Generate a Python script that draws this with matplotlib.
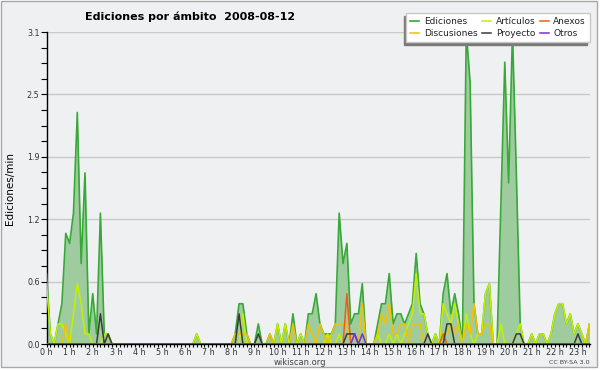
import numpy as np
import matplotlib
matplotlib.use('Agg')
import matplotlib.pyplot as plt
from matplotlib.ticker import FixedLocator, MultipleLocator, FormatStrFormatter
from matplotlib.patches import Rectangle

# edits per minute, one value per 10-minute slot, 0h00 .. 23h30
ediciones = [
    0.7, 0.1, 0.0, 0.2, 0.4, 1.1, 1.0, 1.3, 2.3, 0.8, 1.7, 0.1,
    0.5, 0.1, 1.3, 0.1, 0.1, 0.0, 0.0, 0.0, 0.0, 0.0, 0.0, 0.0,
    0.0, 0.0, 0.0, 0.0, 0.0, 0.0, 0.0, 0.0, 0.0, 0.0, 0.0, 0.0,
    0.0, 0.0, 0.0, 0.1, 0.0, 0.0, 0.0, 0.0, 0.0, 0.0, 0.0, 0.0,
    0.0, 0.1, 0.4, 0.4, 0.1, 0.0, 0.0, 0.2, 0.0, 0.0, 0.1, 0.0,
    0.2, 0.0, 0.2, 0.0, 0.3, 0.0, 0.1, 0.0, 0.3, 0.3, 0.5, 0.2,
    0.1, 0.1, 0.1, 0.2, 1.3, 0.8, 1.0, 0.2, 0.3, 0.3, 0.6, 0.0,
    0.0, 0.0, 0.2, 0.4, 0.4, 0.7, 0.2, 0.3, 0.3, 0.2, 0.3, 0.4,
    0.9, 0.4, 0.3, 0.1, 0.0, 0.1, 0.0, 0.5, 0.7, 0.3, 0.5, 0.3,
    0.0, 3.1, 2.6, 0.4, 0.1, 0.1, 0.5, 0.6, 0.0, 0.0, 1.4, 2.8,
    1.6, 3.1, 1.7, 0.2, 0.0, 0.0, 0.1, 0.0, 0.1, 0.1, 0.0, 0.1,
    0.3, 0.4, 0.4, 0.2, 0.3, 0.1, 0.2, 0.1, 0.0, 0.2,
]
articulos = [
    0.6, 0.1, 0.0, 0.2, 0.2, 0.1, 0.0, 0.3, 0.6, 0.4, 0.1, 0.1,
    0.0, 0.0, 0.0, 0.1, 0.1, 0.0, 0.0, 0.0, 0.0, 0.0, 0.0, 0.0,
    0.0, 0.0, 0.0, 0.0, 0.0, 0.0, 0.0, 0.0, 0.0, 0.0, 0.0, 0.0,
    0.0, 0.0, 0.0, 0.1, 0.0, 0.0, 0.0, 0.0, 0.0, 0.0, 0.0, 0.0,
    0.0, 0.0, 0.0, 0.3, 0.0, 0.0, 0.0, 0.0, 0.0, 0.0, 0.0, 0.0,
    0.2, 0.0, 0.2, 0.0, 0.0, 0.0, 0.1, 0.0, 0.0, 0.0, 0.0, 0.0,
    0.0, 0.1, 0.0, 0.0, 0.1, 0.0, 0.0, 0.0, 0.0, 0.0, 0.0, 0.0,
    0.0, 0.0, 0.1, 0.0, 0.0, 0.1, 0.0, 0.1, 0.0, 0.1, 0.2, 0.3,
    0.7, 0.3, 0.3, 0.1, 0.0, 0.1, 0.0, 0.4, 0.3, 0.2, 0.4, 0.2,
    0.0, 0.3, 0.1, 0.0, 0.1, 0.1, 0.5, 0.6, 0.0, 0.0, 0.2, 0.0,
    0.0, 0.0, 0.1, 0.2, 0.0, 0.0, 0.1, 0.0, 0.1, 0.1, 0.0, 0.1,
    0.3, 0.4, 0.4, 0.2, 0.3, 0.1, 0.2, 0.1, 0.0, 0.2,
]
discusiones = [
    0.0, 0.0, 0.0, 0.0, 0.0, 0.2, 0.0, 0.0, 0.0, 0.0, 0.0, 0.0,
    0.0, 0.0, 0.0, 0.0, 0.0, 0.0, 0.0, 0.0, 0.0, 0.0, 0.0, 0.0,
    0.0, 0.0, 0.0, 0.0, 0.0, 0.0, 0.0, 0.0, 0.0, 0.0, 0.0, 0.0,
    0.0, 0.0, 0.0, 0.0, 0.0, 0.0, 0.0, 0.0, 0.0, 0.0, 0.0, 0.0,
    0.0, 0.1, 0.1, 0.1, 0.1, 0.0, 0.0, 0.0, 0.0, 0.0, 0.1, 0.0,
    0.0, 0.0, 0.0, 0.0, 0.2, 0.0, 0.0, 0.0, 0.2, 0.1, 0.0, 0.2,
    0.1, 0.0, 0.1, 0.2, 0.2, 0.2, 0.2, 0.0, 0.0, 0.0, 0.4, 0.0,
    0.0, 0.0, 0.1, 0.3, 0.2, 0.4, 0.1, 0.1, 0.2, 0.2, 0.0, 0.2,
    0.2, 0.2, 0.0, 0.0, 0.0, 0.0, 0.0, 0.1, 0.1, 0.2, 0.1, 0.2,
    0.0, 0.2, 0.1, 0.4, 0.1, 0.1, 0.2, 0.2, 0.0, 0.0, 0.0, 0.0,
    0.0, 0.0, 0.0, 0.0, 0.0, 0.0, 0.0, 0.0, 0.0, 0.0, 0.0, 0.0,
    0.0, 0.0, 0.0, 0.0, 0.0, 0.0, 0.0, 0.0, 0.0, 0.2,
]
anexos = [
    0.0, 0.0, 0.0, 0.0, 0.0, 0.0, 0.0, 0.0, 0.0, 0.0, 0.0, 0.0,
    0.0, 0.0, 0.0, 0.0, 0.0, 0.0, 0.0, 0.0, 0.0, 0.0, 0.0, 0.0,
    0.0, 0.0, 0.0, 0.0, 0.0, 0.0, 0.0, 0.0, 0.0, 0.0, 0.0, 0.0,
    0.0, 0.0, 0.0, 0.0, 0.0, 0.0, 0.0, 0.0, 0.0, 0.0, 0.0, 0.0,
    0.0, 0.0, 0.0, 0.0, 0.0, 0.0, 0.0, 0.0, 0.0, 0.0, 0.0, 0.0,
    0.0, 0.0, 0.0, 0.0, 0.0, 0.0, 0.0, 0.0, 0.0, 0.0, 0.0, 0.0,
    0.0, 0.0, 0.0, 0.0, 0.0, 0.0, 0.5, 0.0, 0.0, 0.0, 0.0, 0.0,
    0.0, 0.0, 0.0, 0.0, 0.0, 0.0, 0.0, 0.0, 0.0, 0.0, 0.0, 0.0,
    0.0, 0.0, 0.0, 0.0, 0.0, 0.0, 0.0, 0.1, 0.0, 0.0, 0.0, 0.0,
    0.0, 0.0, 0.0, 0.0, 0.0, 0.0, 0.0, 0.0, 0.0, 0.0, 0.0, 0.0,
    0.0, 0.0, 0.0, 0.0, 0.0, 0.0, 0.0, 0.0, 0.0, 0.0, 0.0, 0.0,
    0.0, 0.0, 0.0, 0.0, 0.0, 0.0, 0.0, 0.0, 0.0, 0.0,
]
proyecto = [
    0.0, 0.0, 0.0, 0.0, 0.0, 0.0, 0.0, 0.0, 0.0, 0.0, 0.0, 0.0,
    0.0, 0.0, 0.3, 0.0, 0.1, 0.0, 0.0, 0.0, 0.0, 0.0, 0.0, 0.0,
    0.0, 0.0, 0.0, 0.0, 0.0, 0.0, 0.0, 0.0, 0.0, 0.0, 0.0, 0.0,
    0.0, 0.0, 0.0, 0.0, 0.0, 0.0, 0.0, 0.0, 0.0, 0.0, 0.0, 0.0,
    0.0, 0.0, 0.3, 0.0, 0.0, 0.0, 0.0, 0.1, 0.0, 0.0, 0.0, 0.0,
    0.0, 0.0, 0.0, 0.0, 0.0, 0.0, 0.0, 0.0, 0.0, 0.0, 0.0, 0.0,
    0.0, 0.0, 0.0, 0.0, 0.0, 0.0, 0.1, 0.1, 0.1, 0.0, 0.0, 0.0,
    0.0, 0.0, 0.0, 0.0, 0.0, 0.0, 0.0, 0.0, 0.0, 0.0, 0.0, 0.0,
    0.0, 0.0, 0.0, 0.1, 0.0, 0.0, 0.0, 0.0, 0.2, 0.2, 0.0, 0.0,
    0.0, 0.0, 0.0, 0.0, 0.0, 0.0, 0.0, 0.0, 0.0, 0.0, 0.0, 0.0,
    0.0, 0.0, 0.1, 0.1, 0.0, 0.0, 0.0, 0.0, 0.0, 0.0, 0.0, 0.0,
    0.0, 0.0, 0.0, 0.0, 0.0, 0.0, 0.1, 0.0, 0.0, 0.0,
]
otros = [
    0.0, 0.0, 0.0, 0.0, 0.0, 0.0, 0.0, 0.0, 0.0, 0.0, 0.0, 0.0,
    0.0, 0.0, 0.0, 0.0, 0.0, 0.0, 0.0, 0.0, 0.0, 0.0, 0.0, 0.0,
    0.0, 0.0, 0.0, 0.0, 0.0, 0.0, 0.0, 0.0, 0.0, 0.0, 0.0, 0.0,
    0.0, 0.0, 0.0, 0.0, 0.0, 0.0, 0.0, 0.0, 0.0, 0.0, 0.0, 0.0,
    0.0, 0.0, 0.0, 0.0, 0.0, 0.0, 0.0, 0.0, 0.0, 0.0, 0.0, 0.0,
    0.0, 0.0, 0.0, 0.0, 0.0, 0.0, 0.0, 0.0, 0.0, 0.0, 0.0, 0.0,
    0.0, 0.0, 0.0, 0.0, 0.0, 0.0, 0.0, 0.0, 0.1, 0.0, 0.1, 0.0,
    0.0, 0.0, 0.0, 0.0, 0.0, 0.0, 0.0, 0.0, 0.0, 0.0, 0.0, 0.0,
    0.0, 0.0, 0.0, 0.0, 0.0, 0.0, 0.0, 0.0, 0.0, 0.0, 0.0, 0.0,
    0.0, 0.0, 0.0, 0.0, 0.0, 0.0, 0.0, 0.0, 0.0, 0.0, 0.0, 0.0,
    0.0, 0.0, 0.0, 0.0, 0.0, 0.0, 0.0, 0.0, 0.0, 0.0, 0.0, 0.0,
    0.0, 0.0, 0.0, 0.0, 0.0, 0.0, 0.0, 0.0, 0.0, 0.0,
]

hour_labels = ['%d h' % h for h in range(24)]
y_ticks = [0.0, 0.62, 1.24, 1.86, 2.48, 3.1]

# slot start times in hours
hours = np.arange(len(ediciones)) / 6.0

bg = '#eff0f1'
text_color = '#333333'
plt.rcParams['font.family'] = 'DejaVu Sans'

fig = plt.figure(figsize=(6, 3.7), dpi=100, facecolor='white')
# outer panel with thin grey border
fig.patches.append(Rectangle((1 / 600, 1 - 367 / 370), 596 / 600, 366 / 370,
                             transform=fig.transFigure, facecolor=bg,
                             edgecolor='#a8a8a8', lw=1, zorder=-10))

ax = fig.add_axes([46.5 / 600, 1 - 344 / 370, (589.5 - 46.5) / 600, (344 - 32) / 370])
ax.set_facecolor(bg)

# filled area for the total, then one line per namespace
ax.fill_between(hours, 0, ediciones, color='#9fcc9f', lw=0, zorder=2)
series = [
    ('Ediciones', ediciones, '#38a838', 1.2),
    ('Artículos', articulos, '#c4f000', 1.1),
    ('Discusiones', discusiones, '#f2c200', 1.1),
    ('Anexos', anexos, '#f25c10', 1.1),
    ('Proyecto', proyecto, '#3a3a3a', 1.1),
    ('Otros', otros, '#7a2ee0', 1.1),
]
handles = {}
for z, (name, vals, col, lw) in enumerate(series):
    ln, = ax.plot(hours, vals, color=col, lw=lw, zorder=3 + z)
    handles[name] = ln

ax.set_xlim(hours[0], hours[-1])
ax.set_ylim(0, 3.1)

# axes, ticks and grid
ax.spines['top'].set_visible(False)
ax.spines['right'].set_visible(False)
ax.spines['left'].set_linewidth(1)
ax.spines['bottom'].set_linewidth(1)
ax.xaxis.set_major_locator(FixedLocator(range(24)))
ax.xaxis.set_minor_locator(MultipleLocator(1 / 6.0))
ax.set_xticklabels(hour_labels)
ax.yaxis.set_major_locator(FixedLocator(y_ticks))
ax.yaxis.set_minor_locator(MultipleLocator(0.155))
ax.yaxis.set_major_formatter(FormatStrFormatter('%.1f'))
ax.tick_params(axis='both', which='both', direction='out', colors='black',
               labelcolor=text_color, labelsize=5.8, width=0.8)
ax.tick_params(axis='x', which='both', length=2.5, pad=0.5)
ax.tick_params(axis='y', which='both', length=4, pad=1)
ax.grid(axis='y', which='major', color='#c9c9c9', lw=1, zorder=1)
ax.set_axisbelow(True)

ax.set_ylabel('Ediciones/min', fontsize=7.5, color='black')
ax.yaxis.set_label_coords(-0.058, 0.5)

# title and footer texts
fig.text(85 / 600, 1 - 17 / 370, 'Ediciones por ámbito  2008-08-12',
         fontsize=8, fontweight='bold', color='black', ha='left', va='center')
fig.text(300 / 600, 1 - 362.5 / 370, 'wikiscan.org', fontsize=6,
         color='#444444', ha='center', va='center')
fig.text(590 / 600, 1 - 362.5 / 370, 'CC BY-SA 3.0', fontsize=4.6,
         color='#444444', ha='right', va='center')

# legend in column order so rows read Ediciones/Artículos/Anexos
order = ['Ediciones', 'Discusiones', 'Artículos', 'Proyecto', 'Anexos', 'Otros']
leg = ax.legend([handles[n] for n in order], order, ncol=3, loc='upper right',
                bbox_to_anchor=(590 / 600, 1 - 13 / 370), bbox_transform=fig.transFigure,
                fontsize=6.5, frameon=True, fancybox=False, framealpha=1,
                edgecolor='#c8c8c8', facecolor='white',
                shadow={'ox': -2, 'oy': -2, 'facecolor': '#7a7a7a',
                        'edgecolor': '#7a7a7a', 'alpha': 1},
                handlelength=1.0, handletextpad=0.5, columnspacing=0.5,
                labelspacing=0.3, borderpad=0.45, borderaxespad=0)
leg.set_zorder(20)
for t in leg.get_texts():
    t.set_color('#222222')

fig.savefig('out.png', dpi=100, facecolor=fig.get_facecolor())
